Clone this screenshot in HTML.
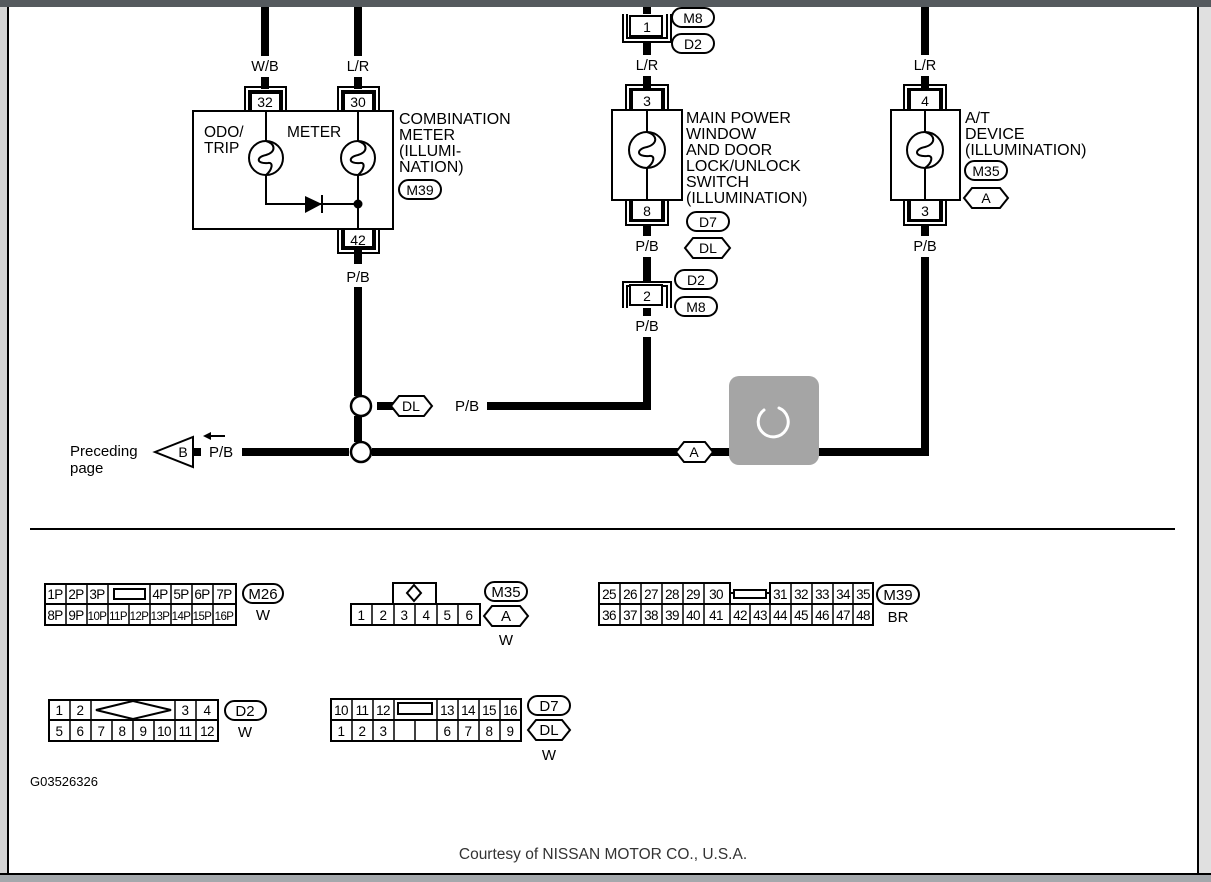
<!DOCTYPE html>
<html><head><meta charset="utf-8"><style>
html,body{margin:0;padding:0;background:#fff;}
svg{display:block;}
text{font-family:"Liberation Sans",Arial,sans-serif;fill:#000;}
</style></head><body>
<svg width="1211" height="882" viewBox="0 0 1211 882" xmlns="http://www.w3.org/2000/svg">
<rect x="0" y="0" width="1211" height="882" fill="#fff"/>
<rect x="0" y="0" width="8" height="882" fill="#d4d4d4"/>
<rect x="7" y="0" width="2" height="882" fill="#000"/>
<rect x="1199" y="0" width="12" height="882" fill="#e0e0e0"/>
<rect x="1197" y="0" width="2" height="882" fill="#000"/>
<rect x="0" y="873" width="1211" height="2" fill="#000"/>
<rect x="0" y="875" width="1211" height="7" fill="#a4a8ac"/>
<rect x="0" y="0" width="1211" height="7" fill="#555a5e"/>

<g stroke="#000" fill="none">
<g stroke-width="8">
<line x1="265" y1="7" x2="265" y2="56"/>
<line x1="265" y1="77" x2="265" y2="89"/>
<line x1="358" y1="7" x2="358" y2="56"/>
<line x1="358" y1="77" x2="358" y2="89"/>
<line x1="358" y1="250" x2="358" y2="264"/>
<line x1="358" y1="287" x2="358" y2="396"/>
<line x1="358" y1="416" x2="358" y2="442"/>
<line x1="377" y1="406" x2="396" y2="406"/>
<line x1="487" y1="406" x2="651" y2="406"/>
<line x1="647" y1="7" x2="647" y2="14"/>
<line x1="647" y1="42" x2="647" y2="55"/>
<line x1="647" y1="76" x2="647" y2="89"/>
<line x1="647" y1="225" x2="647" y2="236"/>
<line x1="647" y1="257" x2="647" y2="282"/>
<line x1="647" y1="308" x2="647" y2="316"/>
<line x1="647" y1="337" x2="647" y2="410"/>
<line x1="925" y1="7" x2="925" y2="55"/>
<line x1="925" y1="76" x2="925" y2="89"/>
<line x1="925" y1="225" x2="925" y2="236"/>
<line x1="925" y1="257" x2="925" y2="456"/>
<line x1="372" y1="452" x2="679" y2="452"/>
<line x1="711" y1="452" x2="929" y2="452"/>
<line x1="242" y1="452" x2="349" y2="452"/>
<line x1="193" y1="452" x2="201" y2="452"/>
</g>
<g stroke-width="2">
<rect x="193" y="111" width="200" height="118"/>
<path d="M245,111 V87 H286 V111 M249,111 V91 H282 V111"/>
<rect x="251" y="93" width="29" height="18" fill="#fff"/>
<path d="M338,111 V87 H379 V111 M342,111 V91 H375 V111"/>
<rect x="344" y="93" width="29" height="18" fill="#fff"/>
<path d="M338,229 V253 H379 V229 M342,229 V249 H375 V229"/>
<rect x="344" y="229" width="29" height="18" fill="#fff"/>
<line x1="266" y1="111" x2="266" y2="141"/>
<line x1="358" y1="111" x2="358" y2="141"/>
<circle cx="266" cy="158" r="17"/>
<circle cx="358" cy="158" r="17"/>
<path d="M266,141 C276,144 276,152 266,155 C256,157 256,164 268,163 C274,162 272,170 266,175"/>
<path d="M358,141 C368,144 368,152 358,155 C348,157 348,164 360,163 C366,162 364,170 358,175"/>
<path d="M266,175 V204 H358"/>
<line x1="358" y1="175" x2="358" y2="229"/>
<line x1="322" y1="195" x2="322" y2="213"/>
<rect x="612" y="110" width="70" height="90"/>
<path d="M626,110 V85 H668 V110 M630,110 V89 H664 V110"/>
<rect x="632" y="90" width="30" height="20" fill="#fff"/>
<path d="M626,200 V225 H668 V200 M630,200 V221 H664 V200"/>
<rect x="632" y="200" width="30" height="20" fill="#fff"/>
<line x1="647" y1="110" x2="647" y2="132"/>
<line x1="647" y1="168" x2="647" y2="200"/>
<circle cx="647" cy="150" r="18"/>
<path d="M647,132 C658,135 658,144 647,147 C636,149 636,157 649,156 C656,155 654,163 647,168"/>
<path d="M623,14 V42 H671 V14 M627,14 V38 H667 V14"/>
<rect x="630" y="16" width="32" height="20" fill="#fff"/>
<path d="M623,308 V282 H671 V308 M627,308 V286 H667 V308"/>
<rect x="630" y="285" width="32" height="20" fill="#fff"/>
<rect x="891" y="110" width="69" height="90"/>
<path d="M904,110 V85 H946 V110 M908,110 V89 H942 V110"/>
<rect x="910" y="90" width="30" height="20" fill="#fff"/>
<path d="M904,200 V225 H946 V200 M908,200 V221 H942 V200"/>
<rect x="910" y="200" width="30" height="20" fill="#fff"/>
<line x1="925" y1="110" x2="925" y2="132"/>
<line x1="925" y1="168" x2="925" y2="200"/>
<circle cx="925" cy="150" r="18"/>
<path d="M925,132 C936,135 936,144 925,147 C914,149 914,157 927,156 C934,155 932,163 925,168"/>
<rect x="399" y="180" width="42" height="19" rx="9.5"/>
<rect x="672" y="8" width="42" height="19" rx="9.5"/>
<rect x="672" y="34" width="42" height="19" rx="9.5"/>
<rect x="687" y="212" width="42" height="19" rx="9.5"/>
<rect x="675" y="270" width="42" height="19" rx="9.5"/>
<rect x="675" y="297" width="42" height="19" rx="9.5"/>
<rect x="965" y="161" width="42" height="19" rx="9.5"/>
<polygon points="685,248 693,238 722,238 730,248 722,258 693,258"/>
<polygon points="964,198 972,188 1000,188 1008,198 1000,208 972,208"/>
<polygon points="391,406 399,396 424,396 432,406 424,416 399,416" fill="#fff"/>
<polygon points="676,452 684,442 705,442 713,452 705,462 684,462" fill="#fff"/>
<circle cx="361" cy="406" r="10" stroke-width="2.5"/>
<circle cx="361" cy="452" r="10" stroke-width="2.5"/>
<polygon points="155,452 193,437 193,467"/>
<line x1="30" y1="529" x2="1175" y2="529"/>
</g>
</g>
<polygon points="305,196 322,204 305,213" fill="#000"/>
<circle cx="358" cy="204" r="4.5" fill="#000"/>
<path d="M205,436 H225" stroke="#000" stroke-width="2"/>
<polygon points="203,436 211,432 211,440" fill="#000"/>

<g font-size="14.5">
<text x="265" y="71" text-anchor="middle">W/B</text>
<text x="358" y="71" text-anchor="middle">L/R</text>
<text x="265" y="107" text-anchor="middle" font-size="14">32</text>
<text x="358" y="107" text-anchor="middle" font-size="14">30</text>
<text x="358" y="245" text-anchor="middle" font-size="14">42</text>
<text x="358" y="282" text-anchor="middle">P/B</text>
<text x="204" y="137" font-size="15.5">ODO/</text>
<text x="204" y="153" font-size="15.5">TRIP</text>
<text x="287" y="137" font-size="15.5">METER</text>
<g font-size="16">
<text x="399" y="124">COMBINATION</text>
<text x="399" y="140">METER</text>
<text x="399" y="156">(ILLUMI-</text>
<text x="399" y="172">NATION)</text>
<text x="686" y="123">MAIN POWER</text>
<text x="686" y="139">WINDOW</text>
<text x="686" y="155">AND DOOR</text>
<text x="686" y="171">LOCK/UNLOCK</text>
<text x="686" y="187">SWITCH</text>
<text x="686" y="203">(ILLUMINATION)</text>
<text x="965" y="123">A/T</text>
<text x="965" y="139">DEVICE</text>
<text x="965" y="155">(ILLUMINATION)</text>
</g>
<text x="420" y="195" text-anchor="middle" font-size="14">M39</text>
<text x="647" y="32" text-anchor="middle" font-size="14">1</text>
<text x="693" y="23" text-anchor="middle" font-size="14">M8</text>
<text x="693" y="49" text-anchor="middle" font-size="14">D2</text>
<text x="647" y="70" text-anchor="middle">L/R</text>
<text x="647" y="106" text-anchor="middle" font-size="14">3</text>
<text x="647" y="216" text-anchor="middle" font-size="14">8</text>
<text x="708" y="227" text-anchor="middle" font-size="14">D7</text>
<text x="708" y="253" text-anchor="middle" font-size="14">DL</text>
<text x="647" y="251" text-anchor="middle">P/B</text>
<text x="696" y="285" text-anchor="middle" font-size="14">D2</text>
<text x="696" y="312" text-anchor="middle" font-size="14">M8</text>
<text x="647" y="301" text-anchor="middle" font-size="14">2</text>
<text x="647" y="331" text-anchor="middle">P/B</text>
<text x="925" y="70" text-anchor="middle">L/R</text>
<text x="925" y="106" text-anchor="middle" font-size="14">4</text>
<text x="925" y="216" text-anchor="middle" font-size="14">3</text>
<text x="925" y="251" text-anchor="middle">P/B</text>
<text x="986" y="176" text-anchor="middle" font-size="14">M35</text>
<text x="986" y="203" text-anchor="middle" font-size="14">A</text>
<text x="411" y="411" text-anchor="middle" font-size="14">DL</text>
<text x="455" y="411" font-size="15">P/B</text>
<text x="694" y="457" text-anchor="middle" font-size="14">A</text>
<text x="183" y="457" text-anchor="middle" font-size="14">B</text>
<text x="209" y="457" font-size="15">P/B</text>
<text x="70" y="456" font-size="15">Preceding</text>
<text x="70" y="473" font-size="15">page</text>
<text x="30" y="786" font-size="13">G03526326</text>
</g>

<rect x="729" y="376" width="90" height="89" rx="10" fill="#a5a5a5"/>
<path d="M764,410 A15,15 0 1 0 779,408" stroke="#fff" stroke-width="3" fill="none" stroke-linecap="round"/>

<g stroke="#000" stroke-width="2" fill="#fff">
<rect x="45" y="584" width="191" height="41"/>
<line x1="45" y1="604" x2="236" y2="604"/>
<path d="M66,584V625 M87,584V625 M108,584V625 M150,584V625 M171,584V625 M192,584V625 M213,584V625 M129,604V625" stroke-width="1.5"/>
<rect x="114" y="589" width="31" height="10"/>
<rect x="393" y="583" width="43" height="21"/>
<polygon points="414,585 421,593 414,601 407,593"/>
<rect x="351" y="604" width="129" height="21"/>
<path d="M372,604V625 M394,604V625 M415,604V625 M437,604V625 M458,604V625" stroke-width="1.5"/>
<rect x="599" y="593" width="274" height="32"/>
<rect x="599" y="583" width="131" height="21"/>
<rect x="770" y="583" width="103" height="21"/>
<line x1="599" y1="604" x2="873" y2="604"/>
<path d="M620,583V625 M641,583V625 M662,583V625 M683,583V625 M704,583V625 M730,583V625 M750,604V625 M770,583V625 M791,583V625 M812,583V625 M833,583V625 M853,583V625" stroke-width="1.5"/>
<rect x="734" y="590" width="32" height="8"/>
<rect x="49" y="700" width="169" height="41"/>
<line x1="49" y1="720" x2="218" y2="720"/>
<path d="M70,700V741 M91,700V741 M175,700V741 M196,700V741 M112,720V741 M133,720V741 M154,720V741" stroke-width="1.5"/>
<polygon points="96,710 133,701 171,710 133,719" fill="none"/>
<rect x="331" y="699" width="190" height="42"/>
<line x1="331" y1="720" x2="521" y2="720"/>
<path d="M352,699V741 M373,699V741 M394,699V741 M437,699V741 M458,699V741 M479,699V741 M500,699V741 M415,720V741" stroke-width="1.5"/>
<rect x="398" y="703" width="34" height="11"/>
<rect x="243" y="584" width="40" height="19" rx="9.5"/>
<rect x="485" y="582" width="42" height="19" rx="9.5"/>
<polygon points="484,616 492,606 520,606 528,616 520,626 492,626"/>
<rect x="877" y="585" width="42" height="19" rx="9.5"/>
<rect x="225" y="701" width="41" height="19" rx="9.5"/>
<rect x="528" y="696" width="42" height="19" rx="9.5"/>
<polygon points="528,730 536,720 562,720 570,730 562,740 536,740"/>
</g>
<g font-size="13.5" text-anchor="middle" letter-spacing="-0.6">
<text x="55" y="599">1P</text><text x="76" y="599">2P</text><text x="97" y="599">3P</text>
<text x="160" y="599">4P</text><text x="181" y="599">5P</text><text x="202" y="599">6P</text><text x="224" y="599">7P</text>
<text x="55" y="620">8P</text><text x="76" y="620">9P</text><text x="97" y="620" font-size="11.5">10P</text><text x="118" y="620" font-size="11.5">11P</text><text x="139" y="620" font-size="11.5">12P</text><text x="160" y="620" font-size="11.5">13P</text><text x="181" y="620" font-size="11.5">14P</text><text x="202" y="620" font-size="11.5">15P</text><text x="224" y="620" font-size="11.5">16P</text>
<text x="361" y="620">1</text><text x="383" y="620">2</text><text x="404" y="620">3</text><text x="426" y="620">4</text><text x="447" y="620">5</text><text x="469" y="620">6</text>
<text x="609" y="599">25</text><text x="630" y="599">26</text><text x="651" y="599">27</text><text x="672" y="599">28</text><text x="693" y="599">29</text><text x="716" y="599">30</text>
<text x="780" y="599">31</text><text x="801" y="599">32</text><text x="822" y="599">33</text><text x="843" y="599">34</text><text x="863" y="599">35</text>
<text x="609" y="620">36</text><text x="630" y="620">37</text><text x="651" y="620">38</text><text x="672" y="620">39</text><text x="693" y="620">40</text><text x="716" y="620">41</text><text x="740" y="620">42</text><text x="760" y="620">43</text><text x="780" y="620">44</text><text x="801" y="620">45</text><text x="822" y="620">46</text><text x="843" y="620">47</text><text x="863" y="620">48</text>
<text x="59" y="715">1</text><text x="80" y="715">2</text><text x="185" y="715">3</text><text x="207" y="715">4</text>
<text x="59" y="736">5</text><text x="80" y="736">6</text><text x="101" y="736">7</text><text x="122" y="736">8</text><text x="143" y="736">9</text><text x="164" y="736">10</text><text x="185" y="736">11</text><text x="207" y="736">12</text>
<text x="341" y="715">10</text><text x="362" y="715">11</text><text x="383" y="715">12</text><text x="447" y="715">13</text><text x="468" y="715">14</text><text x="489" y="715">15</text><text x="510" y="715">16</text>
<text x="341" y="736">1</text><text x="362" y="736">2</text><text x="383" y="736">3</text><text x="447" y="736">6</text><text x="468" y="736">7</text><text x="489" y="736">8</text><text x="510" y="736">9</text>
</g>
<g font-size="15" text-anchor="middle">
<text x="263" y="599">M26</text><text x="263" y="620">W</text>
<text x="506" y="597">M35</text><text x="506" y="621">A</text><text x="506" y="645">W</text>
<text x="898" y="600">M39</text><text x="898" y="622">BR</text>
<text x="245" y="716">D2</text><text x="245" y="737">W</text>
<text x="549" y="711">D7</text><text x="549" y="735">DL</text><text x="549" y="760">W</text>
</g>
<text x="603" y="859" font-size="15.5" text-anchor="middle" style="fill:#333">Courtesy of NISSAN MOTOR CO., U.S.A.</text>
</svg>
</body></html>
